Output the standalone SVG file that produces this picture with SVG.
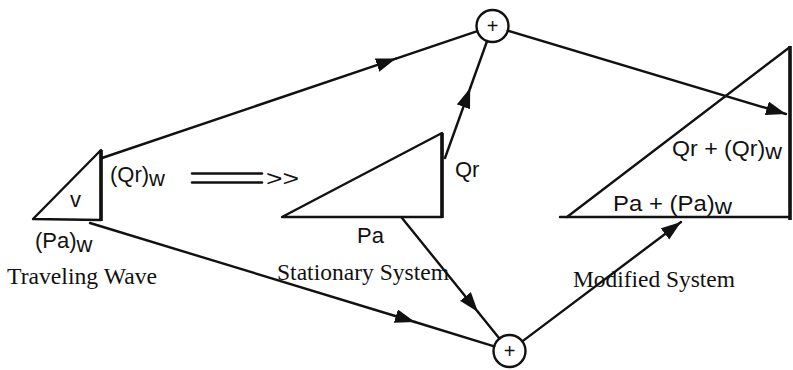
<svg xmlns="http://www.w3.org/2000/svg" width="793" height="370" viewBox="0 0 793 370">
<style>
.ln{stroke:#111;stroke-width:2.4;fill:none;stroke-linecap:round;stroke-linejoin:round}
.thick{stroke:#111;stroke-width:3.6;fill:none}
.sans{font-family:"Liberation Sans",Arial,sans-serif;font-size:22px;fill:#111}
.serif{font-family:"Liberation Serif","Times New Roman",serif;font-size:23px;fill:#111}
.plus{font-family:"Liberation Sans",Arial,sans-serif;font-size:20px;fill:#111;text-anchor:middle}
</style>
<defs>
<marker id="ah" markerUnits="userSpaceOnUse" markerWidth="22" markerHeight="15" refX="20" refY="7" orient="auto">
<path d="M0,0 L20,7 L0,14 z" fill="#111"/>
</marker>
</defs>
<rect width="793" height="370" fill="#fff"/>
<g id="traveling-wave">
<polygon class="ln" points="33,219 101,150 101,220"/>
<line class="thick" x1="101" y1="150" x2="101" y2="221"/>
<text class="sans" x="70" y="207">v</text>
<text class="sans" x="110" y="182">(Qr)<tspan dy="4">w</tspan></text>
<text class="sans" x="35" y="248">(Pa)<tspan dy="4">w</tspan></text>
<text class="serif" x="7" y="284" textLength="150" lengthAdjust="spacingAndGlyphs">Traveling Wave</text>
</g>
<g id="transform-arrow">
<line class="ln" x1="192" y1="173.5" x2="262" y2="173.5" stroke-width="2"/>
<line class="ln" x1="192" y1="182.5" x2="262" y2="182.5" stroke-width="2"/>
<text class="sans" x="266" y="186" textLength="33" lengthAdjust="spacingAndGlyphs">&gt;&gt;</text>
</g>
<g id="stationary-system">
<polygon class="ln" points="282,217 442,133 442,217"/>
<line class="thick" x1="442" y1="133" x2="442" y2="218"/>
<text class="sans" x="455" y="177">Qr</text>
<text class="sans" x="357" y="243">Pa</text>
<text class="serif" x="277" y="280" textLength="172" lengthAdjust="spacingAndGlyphs">Stationary System</text>
</g>
<g id="modified-system">
<line class="ln" x1="567" y1="217" x2="790" y2="47"/>
<line class="ln" x1="560" y1="217" x2="790" y2="217"/>
<line class="thick" x1="790" y1="46" x2="790" y2="220" stroke-width="4"/>
<text class="sans" x="672" y="156" textLength="110" lengthAdjust="spacingAndGlyphs">Qr + (Qr)<tspan dy="3">w</tspan></text>
<text class="sans" x="613" y="211" textLength="119" lengthAdjust="spacingAndGlyphs">Pa + (Pa)<tspan dy="3">w</tspan></text>
<text class="serif" x="573" y="287" textLength="162" lengthAdjust="spacingAndGlyphs">Modified System</text>
</g>
<g id="sum-top">
<circle class="ln" cx="492.5" cy="26" r="16"/>
<text class="plus" x="492.5" y="33">+</text>
</g>
<g id="sum-bottom">
<circle class="ln" cx="509.5" cy="351" r="16"/>
<text class="plus" x="509.5" y="358">+</text>
</g>
<g id="connectors">
<line class="ln" x1="102" y1="158" x2="396" y2="58.6" marker-end="url(#ah)"/>
<line class="ln" x1="396" y1="58.6" x2="477.3" y2="31.1"/>
<line class="ln" x1="90" y1="223" x2="415" y2="322" marker-end="url(#ah)"/>
<line class="ln" x1="415" y1="322" x2="494.2" y2="346.3"/>
<line class="ln" x1="402" y1="218" x2="478" y2="312" marker-end="url(#ah)"/>
<line class="ln" x1="478" y1="312" x2="499.4" y2="338.6"/>
<line class="ln" x1="445" y1="158" x2="470.2" y2="88" marker-end="url(#ah)"/>
<line class="ln" x1="470.2" y1="88" x2="487.1" y2="41"/>
<line class="ln" x1="507.8" y1="30.6" x2="786" y2="114" marker-end="url(#ah)"/>
<line class="ln" x1="522.3" y1="341.4" x2="681" y2="222" marker-end="url(#ah)"/>
</g>
</svg>
